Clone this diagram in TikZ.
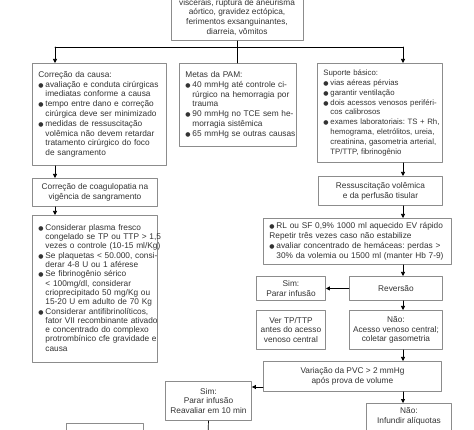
\documentclass[tikz,border=0pt]{standalone}
\usepackage{fontspec}
\setmainfont{Liberation Sans}
\newfontfamily\bulfont{DejaVu Sans}
\usetikzlibrary{arrows.meta}
\newcommand{\bl}{{\bulfont\fontsize{6}{6}\selectfont ●}}
\frenchspacing

\begin{document}
\begin{tikzpicture}[
  x=1pt,
  y=-1pt,
  line cap=round,
  line join=round,
  caixa/.style={draw=black!45, line width=0.9pt, fill=white, inner sep=0pt,
    text=black!80, font=\fontsize{8.3}{9.8}\selectfont},
  centro/.style={caixa, align=center, anchor=north west},
  lista/.style={caixa, anchor=north west, inner xsep=6pt, align=left},
  seta/.style={-{Triangle[length=4pt,width=4pt]}, line width=0.7pt}
]
  \useasboundingbox (0,0) rectangle (474,430);
  \clip (0,0) rectangle (474,430);
  \fill[white] (0,0) rectangle (474,430);

  % Eixos das setas
  \coordinate (ramo)  at (237,47);
  \coordinate (ramoE) at (55,47);
  \coordinate (ramoD) at (403,47);
  \coordinate (fim)   at (208,440);

  % Causas (cortada no alto)
  \node[caixa, align=center, anchor=south, minimum width=132pt, inner ysep=5pt]
    (causas) at (237,41)
    {viscerais, ruptura de aneurisma\\aórtico, gravidez ectópica,\\
     ferimentos exsanguinantes,\\diarreia, vômitos};

  % Coluna da esquerda
  \node[lista, text width=122pt, minimum height=102pt] (causa) at (32,63)
    {\begin{tabular}{@{}p{7pt}@{}l@{}}
      \multicolumn{2}{@{}l@{}}{Correção da causa:}\\
      \bl & avaliação e conduta cirúrgicas\\
          & imediatas conforme a causa\\
      \bl & tempo entre dano e correção\\
          & cirúrgica deve ser minimizado\\
      \bl & medidas de ressuscitação\\
          & volêmica não devem retardar\\
          & tratamento cirúrgico do foco\\
          & de sangramento
    \end{tabular}};

  \node[centro, minimum width=125pt, minimum height=28pt] (coag) at (32,178)
    {Correção de coagulopatia na\\vigência de sangramento};

  \node[lista, text width=113pt, minimum height=147pt,
        font=\fontsize{8.3}{9.3}\selectfont] (plasma) at (32,215)
    {\begin{tabular}{@{}p{7pt}@{}l@{}}
      \bl & Considerar plasma fresco\\
          & congelado se TP ou TTP > 1,5\\
          & vezes o controle (10-15 ml/Kg)\\
      \bl & Se plaquetas < 50.000, consi-\\
          & derar 4-8 U ou 1 aférese\\
      \bl & Se fibrinogênio sérico\\
          & < 100mg/dl, considerar\\
          & crioprecipitado 50 mg/Kg ou\\
          & 15-20 U em adulto de 70 Kg\\
      \bl & Considerar antifibrinolíticos,\\
          & fator VII recombinante ativado\\
          & e concentrado do complexo\\
          & protrombínico cfe gravidade e\\
          & causa
    \end{tabular}};

  % Coluna do meio
  \node[lista, text width=105pt, minimum height=83pt] (metas) at (179,63)
    {\begin{tabular}{@{}p{7pt}@{}l@{}}
      \multicolumn{2}{@{}l@{}}{Metas da PAM:}\\
      \bl & 40 mmHg até controle ci-\\
          & rúrgico na hemorragia por\\
          & trauma\\
      \bl & 90 mmHg no TCE sem he-\\
          & morragia sistêmica\\
      \bl & 65 mmHg se outras causas
    \end{tabular}};

  % Coluna da direita
  \node[lista, text width=113pt, minimum height=99pt,
        font=\fontsize{7.8}{9.8}\selectfont] (suporte) at (317,63)
    {\begin{tabular}{@{}p{7pt}@{}l@{}}
      \multicolumn{2}{@{}l@{}}{Suporte básico:}\\
      \bl & vias aéreas pérvias\\
      \bl & garantir ventilação\\
      \bl & dois acessos venosos periféri-\\
          & cos calibrosos\\
      \bl & exames laboratoriais: TS + Rh,\\
          & hemograma, eletrólitos, ureia,\\
          & creatinina, gasometria arterial,\\
          & TP/TTP, fibrinogênio
    \end{tabular}};

  \node[centro, minimum width=124pt, minimum height=29pt] (ressus) at (318,176)
    {Ressuscitação volêmica\\e da perfusão tisular};

  \node[lista, text width=176pt, minimum height=46pt] (rl) at (263,218)
    {\begin{tabular}{@{}p{7pt}@{}l@{}}
      \bl & RL ou SF 0,9\% 1000 ml aquecido EV rápido\\
      \multicolumn{2}{@{}l@{}}{Repetir três vezes caso não estabilize}\\
      \bl & avaliar concentrado de hemáceas: perdas >\\
          & 30\% da volemia ou 1500 ml (manter Hb 7-9)
    \end{tabular}};

  \node[centro, minimum width=93pt, minimum height=24pt] (reversao) at (349,276)
    {Reversão};
  \node[centro, minimum width=69pt, minimum height=24pt] (sim) at (256,276)
    {Sim:\\Parar infusão};
  \node[centro, minimum width=69pt, minimum height=39pt] (vertp) at (256,310)
    {Ver TP/TTP\\antes do acesso\\venoso central};
  \node[centro, minimum width=93pt, minimum height=39pt] (nao) at (349,310)
    {Não:\\Acesso venoso central;\\coletar gasometria};

  \node[centro, minimum width=178pt, minimum height=30pt] (pvc) at (263,361)
    {Variação da PVC > 2 mmHg\\após prova de volume};
  \node[centro, minimum width=86pt, minimum height=39pt] (reaval) at (165,381)
    {Sim:\\Parar infusão\\Reavaliar em 10 min};
  \node[centro, minimum width=85pt, inner ysep=4pt] (aliquotas) at (366,403)
    {Não:\\Infundir alíquotas\\ \strut};

  % Caixa cortada embaixo
  \node[caixa, anchor=north west, minimum width=77pt, minimum height=20pt]
    (ultima) at (66,423) {};

  % Ramificação do topo
  \draw[line width=0.7pt] (causas.south) -- (ramo);
  \draw[line width=0.7pt] (ramoE) -- (ramoD);
  \draw[seta] (ramoE) -- (ramoE |- causa.north);
  \draw[line width=0.7pt] (ramo) -- (ramo |- metas.north);
  \draw[seta] (ramoD) -- (ramoD |- suporte.north);

  % Setas da esquerda
  \draw[seta] (ramoE |- causa.south) -- (ramoE |- coag.north);
  \draw[seta] (ramoE |- coag.south) -- (ramoE |- plasma.north);

  % Setas da direita
  \coordinate (entrada) at ([yshift=-6pt]reaval.north east);
  \draw[seta] (ramoD |- suporte.south) -- (ramoD |- ressus.north);
  \draw[seta] (ramoD |- ressus.south) -- (ramoD |- rl.north);
  \draw[seta] (ramoD |- rl.south) -- (ramoD |- reversao.north);
  \draw[seta] (reversao.west) -- (sim.east);
  \draw[seta] (ramoD |- reversao.south) -- (ramoD |- nao.north);
  \draw[seta] (ramoD |- nao.south) -- (ramoD |- pvc.north);
  \draw[seta] (pvc.west |- entrada) -- (entrada);
  \draw[seta] (ramoD |- pvc.south) -- (ramoD |- aliquotas.north);
  \draw[line width=0.7pt] (reaval.south) -- (fim);
\end{tikzpicture}
\end{document}
